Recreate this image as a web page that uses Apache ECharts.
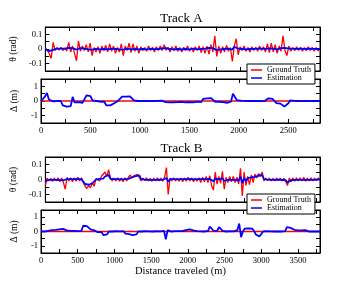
<!DOCTYPE html>
<html>
<head>
<meta charset="utf-8">
<script src="https://cdn.jsdelivr.net/npm/echarts@6/dist/echarts.min.js"></script>
<style>html,body{margin:0;padding:0;background:#fff;}#c{width:363px;height:281px;}</style>
</head>
<body>
<div id="c"></div>
<script>
// ---- Data ----
const titles = ['Track A', 'Track B'];
const legendNames = ['Ground Truth', 'Estimation'];
const xMaxA = 2820, xMaxB = 3800;
const stepA = 20, stepB = 25;
const thetaTicks = ['-0.1', '0', '0.1'];
const deltaTicks = ['-1', '0', '1'];

const thetaTruthA = [
 0.005,-0.01,-0.03,-0.065,0.045,-0.01,0.01,-0.008,0.012,-0.01,
 0.006,-0.012,0.045,-0.02,0.02,-0.03,-0.08,0.055,-0.015,0.02,
 -0.01,0.03,-0.02,0.04,-0.045,0.01,-0.02,0.015,-0.03,0.02,
 -0.01,0.025,-0.02,0.035,-0.015,0.02,-0.03,0.01,-0.02,0.035,
 -0.045,0.02,-0.01,0.04,-0.025,0.035,-0.015,0.02,-0.03,0.015,
 -0.01,0.01,-0.015,0.02,-0.01,0.012,-0.02,0.015,-0.01,0.02,
 -0.01,0.03,-0.008,0.01,-0.02,0.015,-0.012,0.02,-0.015,0.01,
 -0.02,0.012,-0.01,0.02,-0.015,0.01,-0.02,0.015,-0.01,0.02,
 -0.025,0.015,-0.03,0.02,-0.035,0.03,-0.02,0.09,-0.05,0.02,
 -0.03,0.015,-0.02,0.025,-0.015,0.01,-0.085,0.02,0.07,-0.04,
 0.015,-0.01,0.02,-0.015,0.01,-0.02,0.015,-0.01,0.012,-0.015,
 0.02,-0.01,0.015,-0.02,0.035,-0.025,0.04,-0.02,0.03,-0.03,
 0.02,-0.015,0.09,-0.01,-0.045,0.02,-0.015,0.01,-0.012,0.015,
 -0.01,0.012,-0.015,0.01,-0.012,0.015,-0.01,0.012,-0.015,0.01,
 -0.012,0.005
];
const thetaEstA = [
 0,-0.005,-0.015,-0.02,-0.006,0,0.003,-0.002,0.002,0,
 0.003,0.005,0.008,0.004,0.006,0.002,-0.004,0.005,0.006,0.003,
 0.002,-0.004,-0.003,0.002,-0.005,-0.002,0.001,0.003,-0.002,0.002,
 0,0.003,-0.002,0.004,0.002,0.003,0,0.002,-0.003,0.002,
 -0.004,0.003,0.002,0.004,-0.002,0.003,0,0.002,-0.003,0.001,
 0,0.002,-0.002,0.001,0,0.002,-0.001,0.002,0,0.003,
 0.004,0.008,0.006,0.003,0,0.002,-0.002,0.001,0,0.002,
 -0.002,0.001,0,0.002,-0.002,0,0.002,0,-0.002,0.002,
 0,0.003,0.002,0.006,0.008,0.01,0.006,0.004,-0.008,-0.005,
 -0.002,0.002,0,0.004,0.002,0.003,-0.004,0.015,0.01,0.002,
 0.002,0,0.003,-0.002,0.002,0,0.003,0.001,-0.001,0.002,
 0,0.002,0.003,0.001,0.005,0.004,0.006,0.002,0.004,-0.002,
 0.003,0.006,0.012,0.008,-0.004,0.002,0,0.002,-0.001,0.001,
 0,0.002,-0.001,0.001,0,0.002,-0.001,0.001,0,0.001,
 -0.001,0
];
const deltaTruthA = [0, 0];
const deltaEstA = [
 0,0.02,0.3,0.55,0.1,0,-0.02,0.01,0,-0.02,
 0,-0.3,-0.4,-0.38,-0.42,-0.35,0.28,-0.1,-0.12,-0.08,
 -0.1,-0.12,-0.08,0.38,0.35,0.33,0.05,0.02,0,-0.03,
 -0.05,-0.02,-0.05,-0.3,-0.35,-0.3,-0.28,-0.15,-0.05,0.02,
 0.05,0.3,0.28,0.3,0.28,0.32,0.38,0.05,0.02,0,
 0.02,0,-0.02,0.01,0,-0.01,0.02,0,-0.01,0.01,
 0,0.03,-0.05,-0.08,-0.06,-0.09,-0.07,-0.1,-0.06,-0.08,
 -0.09,-0.06,-0.08,-0.1,-0.07,-0.08,-0.06,-0.09,-0.07,-0.05,
 -0.08,-0.07,0.15,0.2,0.18,0.22,0.2,0.15,-0.05,-0.1,
 -0.05,-0.12,-0.08,-0.1,-0.12,-0.08,-0.05,0.5,0.45,0.05,
 0.03,0.02,0.05,0.01,0.03,0,0.02,0.01,0.03,0,
 0.02,-0.01,0.01,0,0.02,0.18,0.2,0.15,0.1,-0.15,
 -0.12,-0.18,-0.2,-0.38,-0.25,-0.15,0.05,0,0.01,-0.01,
 0,0.01,-0.01,0,0.01,0,-0.01,0.01,0,0.01,
 0,0
];

const thetaTruthB = [
 -0.04,0.01,-0.01,0.008,-0.012,0.01,-0.01,0.012,-0.015,0.01,
 -0.02,-0.065,0.015,-0.01,0.012,-0.015,0.01,-0.012,0.015,-0.01,
 0.012,-0.02,-0.045,-0.06,-0.04,-0.055,-0.02,-0.045,0.005,0.015,
 -0.01,0.02,0.01,0.05,0.02,0.065,0.01,-0.01,0.01,-0.01,
 0.012,-0.012,0.01,-0.015,0.012,-0.01,0.015,0.03,0.01,0.025,
 0.02,0.035,0.04,-0.01,0.01,-0.008,0.012,-0.01,0.008,-0.012,
 0.01,-0.01,0.012,-0.01,0.01,-0.012,0.015,0.08,-0.1,0.01,
 -0.01,0.012,-0.01,0.01,-0.012,0.01,-0.015,0.01,-0.012,0.015,
 -0.01,0.012,-0.015,0.01,-0.012,0.012,-0.02,0.015,-0.015,0.02,
 -0.02,0.025,-0.04,-0.07,0.05,-0.03,0.02,-0.025,0.055,-0.065,
 0.015,-0.02,0.02,-0.015,0.02,-0.02,0.015,-0.03,0.075,-0.11,
 0.05,-0.04,0.02,-0.035,0.03,-0.02,0.035,0.01,0.04,0.02,
 0.05,-0.01,0.01,-0.008,0.01,-0.01,0.008,-0.01,0.01,-0.008,
 0.01,-0.01,0.008,-0.012,-0.04,0.01,-0.015,0.01,-0.012,0.012,
 -0.01,0.012,-0.01,0.015,-0.012,0.01,-0.01,0.012,-0.01,0.01,
 -0.008,0.01,0
];
const thetaEstB = [
 -0.01,0.003,-0.002,0.002,-0.003,0.002,-0.002,0.003,-0.004,0.002,
 -0.005,-0.012,0.002,-0.002,0.003,-0.002,0.002,-0.003,0.002,0,
 0.002,-0.01,-0.03,-0.04,-0.035,-0.038,-0.025,-0.015,0,0.005,
 0.004,0.008,0.006,0.02,0.025,0.03,0.005,0,0.002,-0.002,
 0.002,-0.002,0.001,-0.002,0.002,0,0.004,0.01,0.015,0.02,
 0.022,0.025,0.028,0.002,0.002,-0.001,0.002,-0.002,0.001,-0.002,
 0.001,-0.002,0.002,-0.001,0.002,-0.002,0.004,0.01,-0.015,0.002,
 -0.002,0.002,-0.002,0.001,-0.002,0.002,-0.003,0.002,-0.002,0.003,
 -0.002,0.002,-0.004,0.001,-0.002,0.002,-0.005,0.003,-0.004,0.002,
 -0.003,0.004,-0.008,-0.012,0.005,-0.006,0.002,-0.004,0.008,-0.01,
 0.002,-0.003,0.003,-0.002,0.003,-0.003,0.002,-0.008,0.02,-0.025,
 0.01,-0.01,0.008,0.012,0.015,0.012,0.018,0.015,0.025,0.022,
 0.03,0.002,0.002,-0.001,0.002,-0.002,0.001,-0.002,0.002,-0.001,
 0.002,-0.002,0.001,-0.005,-0.02,-0.01,-0.005,0.002,-0.002,0.003,
 -0.002,0.002,-0.002,0.003,-0.002,0.002,-0.002,0.002,-0.002,0.002,
 -0.001,0.002,0
];
const deltaTruthB = [0, 0];
const deltaEstB = [
 0,0.02,0,0.03,0.05,0.08,0.1,0.08,0.12,0.1,
 0.15,0.22,0.18,0.1,0.08,0.12,0.05,0.1,0.05,0.15,
 0.02,0.05,0.03,0.4,0.42,0.38,0.35,0.15,0.1,0.08,
 0.05,-0.05,-0.15,-0.05,-0.25,-0.35,-0.2,0,0.02,0,
 0.01,0.02,0,0.01,0.02,0.02,-0.15,-0.2,-0.18,-0.22,
 -0.25,-0.18,-0.2,0,0.02,0,0.01,0.02,0,0.01,
 0.02,0,0.01,0.02,0,0.01,0.02,0.05,-0.55,0.1,
 0.02,0,0.01,0.02,0,0.02,0.01,0.02,0.05,0.1,
 0.12,0.15,0.12,0.08,0.03,0.02,0,0.01,0.02,0,
 0.02,0.05,0.35,0.38,0.05,0.08,0.05,0.3,0.38,0.05,
 0.02,0,0.01,0.02,0,0.01,0.02,0.1,0.55,-0.4,
 0,0.2,0.25,0.22,0.15,0.2,0.05,-0.2,-0.3,-0.35,
 -0.28,0,0.01,0.02,0,0.01,0.02,0,0.01,0,
 0.02,0,0.01,0.02,0.3,0.33,0.25,0.15,0.12,0.1,
 0.08,0.1,0.08,0.12,0.1,0.05,0,0.01,0,0.01,
 0,0.01,0
];

// ---- Build chart ----
const FONT = 'Liberation Serif';
const RED = '#ff0000', BLUE = '#0000ff';
function pairs(vals, step) { return vals.map((v, i) => [i * step, v]); }
function flat(vals, xmax) { return [[0, vals[0]], [xmax, vals[1]]]; }

const grids = [
  {left: 41, top: 27, width: 279, height: 44},
  {left: 41, top: 79, width: 279, height: 44},
  {left: 41, top: 157, width: 279, height: 45},
  {left: 41, top: 210, width: 279, height: 43}
].map(g => Object.assign(g, {show: true, borderColor: '#000', borderWidth: 1, containLabel: false}));

const axLine = {show: true, onZero: false, lineStyle: {color: '#000', width: 1}};
const axTick = {show: true, inside: true, length: 4, lineStyle: {color: '#000', width: 1}};

const xAxes = [], yAxes = [];
const panels = [
  {xmax: xMaxA, kind: 'theta', labels: false},
  {xmax: xMaxA, kind: 'delta', labels: true},
  {xmax: xMaxB, kind: 'theta', labels: false},
  {xmax: xMaxB, kind: 'delta', labels: true, name: 'Distance traveled (m)'}
];
panels.forEach((p, g) => {
  const xb = {
    type: 'value', gridIndex: g, min: 0, max: p.xmax, interval: 250, position: 'bottom',
    axisLine: axLine, axisTick: axTick, splitLine: {show: false},
    axisLabel: {show: p.labels, margin: 3, fontFamily: FONT, fontSize: 8.5, color: '#000',
      formatter: v => (v % 500 === 0 ? String(v) : '')}
  };
  if (p.name) {
    Object.assign(xb, {name: p.name, nameLocation: 'middle', nameGap: 11,
      nameTextStyle: {fontFamily: FONT, fontSize: 10.5, color: '#000'}});
  }
  xAxes.push(xb);
  xAxes.push({type: 'value', gridIndex: g, min: 0, max: p.xmax, interval: 250, position: 'top',
    axisLine: axLine, axisTick: axTick, splitLine: {show: false}, axisLabel: {show: false}});
  const isTheta = p.kind === 'theta';
  const ticks = isTheta ? thetaTicks : deltaTicks;
  const yb = {
    type: 'value', gridIndex: g, position: 'left',
    min: isTheta ? -0.15 : -1.5, max: isTheta ? 0.15 : 1.5, interval: isTheta ? 0.05 : 0.5,
    axisLine: axLine, axisTick: axTick, splitLine: {show: false},
    axisLabel: {margin: 3, fontFamily: FONT, fontSize: 8.5, color: '#000',
      formatter: v => {
        const s = isTheta ? String(Math.round(v * 10) / 10) : String(Math.round(v));
        const exact = isTheta ? Math.abs(v * 10 - Math.round(v * 10)) < 1e-6 : Math.abs(v - Math.round(v)) < 1e-6;
        return exact && ticks.includes(s) ? s : '';
      }},
    name: isTheta ? 'θ (rad)' : 'Δ (m)', nameLocation: 'middle', nameGap: 22,
    nameTextStyle: {fontFamily: FONT, fontSize: 9.5, color: '#000'}
  };
  yAxes.push(yb);
  yAxes.push({type: 'value', gridIndex: g, position: 'right',
    min: yb.min, max: yb.max, interval: yb.interval,
    axisLine: axLine, axisTick: axTick, splitLine: {show: false}, axisLabel: {show: false}});
});

function line(name, data, g, color, width) {
  return {type: 'line', name, data, xAxisIndex: 2 * g, yAxisIndex: 2 * g, showSymbol: false,
    symbol: 'none', lineStyle: {color, width}, itemStyle: {color}, animation: false, silent: true};
}
const series = [
  line(legendNames[0], pairs(thetaTruthA, stepA), 0, RED, 1.3),
  line(legendNames[1], pairs(thetaEstA, stepA), 0, BLUE, 1.8),
  line(legendNames[0], flat(deltaTruthA, xMaxA), 1, RED, 1.3),
  line(legendNames[1], pairs(deltaEstA, stepA), 1, BLUE, 1.8),
  line(legendNames[0], pairs(thetaTruthB, stepB), 2, RED, 1.3),
  line(legendNames[1], pairs(thetaEstB, stepB), 2, BLUE, 1.8),
  line(legendNames[0], flat(deltaTruthB, xMaxB), 3, RED, 1.3),
  line(legendNames[1], pairs(deltaEstB, stepB), 3, BLUE, 1.8)
];

function legendAt(top) {
  return {data: legendNames, left: 247, top, orient: 'vertical', icon: 'rect',
    itemWidth: 11, itemHeight: 1.5, itemGap: 0, padding: [2, 4, 2, 4],
    backgroundColor: '#fff', borderColor: '#000', borderWidth: 1, selectedMode: false, z: 10,
    textStyle: {fontFamily: FONT, fontSize: 8, color: '#000', lineHeight: 8, padding: [0, 0, 0, 0]}};
}

const chart = echarts.init(document.getElementById('c'), null, {renderer: 'canvas'});
chart.setOption({
  animation: false,
  backgroundColor: '#fff',
  title: [
    {text: titles[0], left: 'center', top: 12, padding: 0, textStyle: {fontFamily: FONT, fontSize: 13, fontWeight: 'normal', color: '#000'}},
    {text: titles[1], left: 'center', top: 142, padding: 0, textStyle: {fontFamily: FONT, fontSize: 13, fontWeight: 'normal', color: '#000'}}
  ],
  legend: [legendAt(64), legendAt(194)],
  grid: grids,
  xAxis: xAxes,
  yAxis: yAxes,
  series
});
</script>
</body>
</html>
